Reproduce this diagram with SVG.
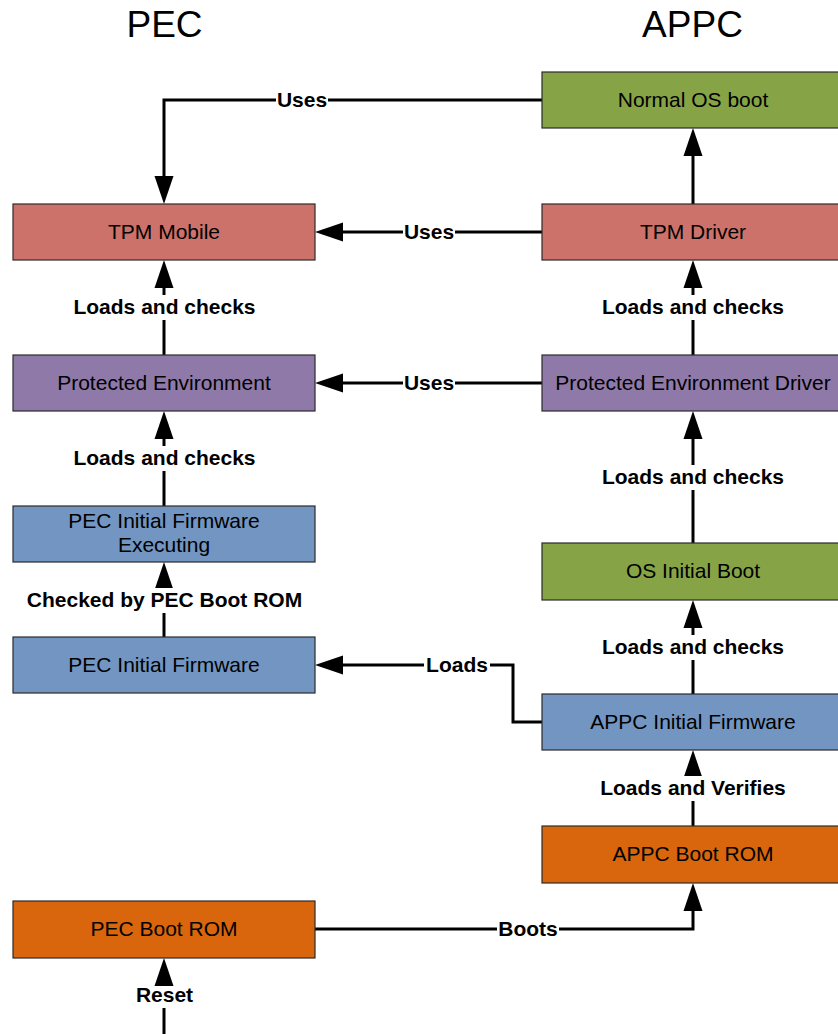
<svg xmlns="http://www.w3.org/2000/svg" width="838" height="1034" viewBox="0 0 838 1034">
  <style>
    .title { font-family: "Liberation Sans", Arial, sans-serif; font-size: 37px; fill: #000; text-anchor: middle; }
    .box { stroke: #2b2b2b; stroke-width: 1.2; }
    .red { fill: #cd726a; }
    .green { fill: #86a446; }
    .purple { fill: #8f79a9; }
    .blue { fill: #7295c1; }
    .orange { fill: #d9660c; }
    .ntext { font-family: "Liberation Sans", Arial, sans-serif; font-size: 21px; fill: #000; text-anchor: middle; }
    .conn { fill: none; stroke: #000; stroke-width: 3; }
    .arrow { marker-end: url(#head); }
    .lbg { fill: #fff; }
    .ltext { font-family: "Liberation Sans", Arial, sans-serif; font-size: 21px; font-weight: bold; fill: #000; text-anchor: middle; }
  </style>
  <defs>
    <marker id="head" markerUnits="userSpaceOnUse" markerWidth="28" markerHeight="20" viewBox="0 0 28 20" refX="0" refY="10" orient="auto">
      <path d="M0,0.5 L28,10 L0,19.5 Z" fill="#000"/>
    </marker>
  </defs>

  <rect width="838" height="1034" fill="#fff"/>

  <!-- column headings -->
  <text class="title" x="164.5" y="37">PEC</text>
  <text class="title" x="692.5" y="37">APPC</text>

  <!-- connectors -->
  <g id="connectors">
    <path class="conn arrow" d="M542,100 H164 V176"/>
    <path class="conn arrow" d="M542,232 H343"/>
    <path class="conn arrow" d="M542,383 H343"/>
    <path class="conn arrow" d="M164,355 V288"/>
    <path class="conn arrow" d="M164,506 V439"/>
    <path class="conn arrow" d="M164,637 V590"/>
    <path class="conn arrow" d="M542,722 H513 V665 H343"/>
    <path class="conn arrow" d="M693,204 V156"/>
    <path class="conn arrow" d="M693,355 V288"/>
    <path class="conn arrow" d="M693,543 V439"/>
    <path class="conn arrow" d="M693,694 V628"/>
    <path class="conn arrow" d="M693,826 V778"/>
    <path class="conn arrow" d="M315,929 H693 V911"/>
    <path class="conn arrow" d="M164,1034 V986"/>

    <!-- connector labels -->
    <rect class="lbg" x="276" y="88" width="52" height="24"/>
    <text class="ltext" x="302" y="106.5">Uses</text>
    <rect class="lbg" x="403" y="220" width="52" height="24"/>
    <text class="ltext" x="429" y="238.5">Uses</text>
    <rect class="lbg" x="403" y="371" width="52" height="24"/>
    <text class="ltext" x="429" y="389.5">Uses</text>
    <rect class="lbg" x="72" y="295" width="185" height="25"/>
    <text class="ltext" x="164.5" y="314">Loads and checks</text>
    <rect class="lbg" x="72" y="446" width="185" height="25"/>
    <text class="ltext" x="164.5" y="465">Loads and checks</text>
    <rect class="lbg" x="24" y="588" width="281" height="25"/>
    <text class="ltext" x="164.5" y="606.5">Checked by PEC Boot ROM</text>
    <rect class="lbg" x="424" y="653" width="66" height="24"/>
    <text class="ltext" x="457" y="671.5">Loads</text>
    <rect class="lbg" x="600" y="295" width="185" height="25"/>
    <text class="ltext" x="693" y="314">Loads and checks</text>
    <rect class="lbg" x="600" y="465" width="185" height="25"/>
    <text class="ltext" x="693" y="484">Loads and checks</text>
    <rect class="lbg" x="600" y="635" width="185" height="25"/>
    <text class="ltext" x="693" y="654">Loads and checks</text>
    <rect class="lbg" x="598" y="776" width="190" height="25"/>
    <text class="ltext" x="693" y="794.5">Loads and Verifies</text>
    <rect class="lbg" x="497" y="917" width="62" height="24"/>
    <text class="ltext" x="528" y="935.5">Boots</text>
    <rect class="lbg" x="134" y="986" width="61" height="22"/>
    <text class="ltext" x="164.5" y="1002">Reset</text>
  </g>

  <!-- PEC side -->
  <g id="tpm-mobile">
    <rect class="box red" x="13" y="204" width="302" height="56"/>
    <text class="ntext" x="164" y="238.5">TPM Mobile</text>
  </g>
  <g id="protected-environment">
    <rect class="box purple" x="13" y="355" width="302" height="56"/>
    <text class="ntext" x="164" y="389.5">Protected Environment</text>
  </g>
  <g id="pec-initial-firmware-executing">
    <rect class="box blue" x="13" y="506" width="302" height="56"/>
    <text class="ntext" x="164" y="527.5">PEC Initial Firmware</text>
    <text class="ntext" x="164" y="551.5">Executing</text>
  </g>
  <g id="pec-initial-firmware">
    <rect class="box blue" x="13" y="637" width="302" height="56"/>
    <text class="ntext" x="164" y="671.5">PEC Initial Firmware</text>
  </g>
  <g id="pec-boot-rom">
    <rect class="box orange" x="13" y="901" width="302" height="57"/>
    <text class="ntext" x="164" y="935.5">PEC Boot ROM</text>
  </g>

  <!-- APPC side -->
  <g id="normal-os-boot">
    <rect class="box green" x="542" y="72" width="302" height="56"/>
    <text class="ntext" x="693" y="106.5">Normal OS boot</text>
  </g>
  <g id="tpm-driver">
    <rect class="box red" x="542" y="204" width="302" height="56"/>
    <text class="ntext" x="693" y="238.5">TPM Driver</text>
  </g>
  <g id="protected-environment-driver">
    <rect class="box purple" x="542" y="355" width="302" height="56"/>
    <text class="ntext" x="693" y="389.5">Protected Environment Driver</text>
  </g>
  <g id="os-initial-boot">
    <rect class="box green" x="542" y="543" width="302" height="57"/>
    <text class="ntext" x="693" y="577.5">OS Initial Boot</text>
  </g>
  <g id="appc-initial-firmware">
    <rect class="box blue" x="542" y="694" width="302" height="56"/>
    <text class="ntext" x="693" y="728.5">APPC Initial Firmware</text>
  </g>
  <g id="appc-boot-rom">
    <rect class="box orange" x="542" y="826" width="302" height="57"/>
    <text class="ntext" x="693" y="860.5">APPC Boot ROM</text>
  </g>
</svg>
